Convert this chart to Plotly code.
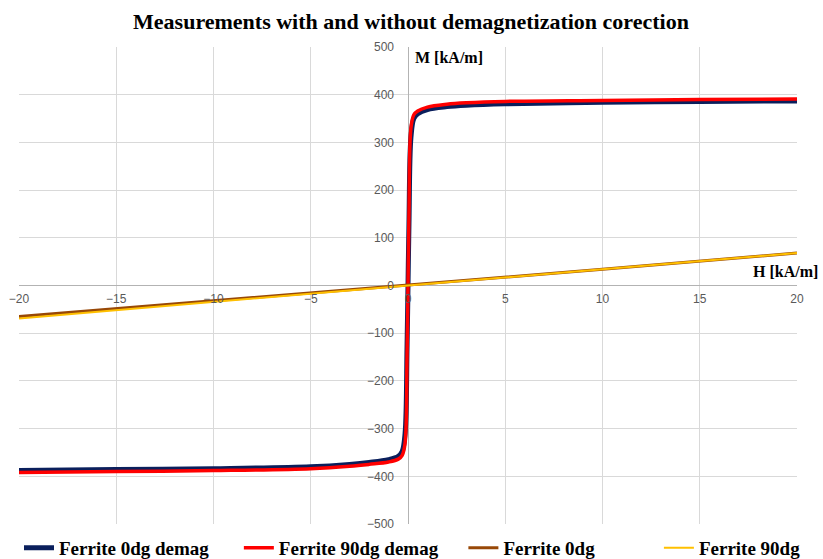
import plotly.graph_objects as go

# H field [kA/m] and magnetization [kA/m]
h_demag = [-20, -15, -10, -5, -3, -2, -1, -0.5, -0.3, -0.15, -0.05, 0,
           0.05, 0.15, 0.3, 0.5, 1, 2, 3, 5, 10, 15, 20]
m_0dg_demag = [-388, -386, -384, -380, -375, -371, -365, -358, -348, -310, -130, 0,
               130, 310, 350, 360, 369, 375, 378, 381, 384, 386, 387]
m_90dg_demag = [-392, -390, -388, -384, -379, -375, -370, -364, -356, -330, -150, 0,
                150, 330, 358, 366, 374, 380, 383, 386, 388, 390, 391]

h_raw = [-20, -10, 0, 10, 20]
m_0dg = [-65, -32, 0, 34, 68]
m_90dg = [-69, -34, 0, 34, 68]

serif = "Liberation Serif"

fig = go.Figure()
fig.add_trace(go.Scatter(x=h_demag, y=m_0dg_demag, mode="lines", name="Ferrite 0dg demag",
                         line=dict(color="#0a1f5c", width=5, shape="spline"), legend="legend"))
fig.add_trace(go.Scatter(x=h_demag, y=m_90dg_demag, mode="lines", name="Ferrite 90dg demag",
                         line=dict(color="#ff0000", width=3.5, shape="spline"), legend="legend2"))
fig.add_trace(go.Scatter(x=h_raw, y=m_0dg, mode="lines", name="Ferrite 0dg",
                         line=dict(color="#984807", width=3), legend="legend3"))
fig.add_trace(go.Scatter(x=h_raw, y=m_90dg, mode="lines", name="Ferrite 90dg",
                         line=dict(color="#ffc000", width=2), legend="legend4"))


def leg(x):
    return dict(orientation="h", x=x, xanchor="left", y=-0.05, yanchor="middle",
                font=dict(family=serif, size=19, color="black", weight="bold"),
                itemwidth=30, bgcolor="rgba(0,0,0,0)")


fig.update_layout(
    width=823,
    height=559,
    margin=dict(l=19, r=26, t=47, b=35, autoexpand=False),
    plot_bgcolor="white",
    paper_bgcolor="white",
    title=dict(text="<b>Measurements with and without demagnetization corection</b>",
               x=0.4994, xanchor="center", y=0.962, yanchor="middle",
               font=dict(family=serif, size=22, color="black")),
    legend=leg(0.0),
    legend2=leg(0.2826),
    legend3=leg(0.5712),
    legend4=leg(0.8225),
    showlegend=True,
)

fig.update_xaxes(range=[-20, 20], dtick=5, tick0=0, anchor="free", position=0.5,
                 showgrid=True, gridcolor="#d9d9d9", gridwidth=1,
                 zeroline=True, zerolinecolor="#b3b3b3", zerolinewidth=1,
                 ticks="", ticklabelstandoff=4, ticklabeloverflow="allow",
                 tickfont=dict(family="Liberation Sans", size=12, color="#595959"))
fig.update_yaxes(range=[-500, 500], dtick=100, tick0=0, anchor="free", position=0.5,
                 showgrid=True, gridcolor="#d9d9d9", gridwidth=1,
                 zeroline=True, zerolinecolor="#b3b3b3", zerolinewidth=1,
                 ticks="", ticklabelstandoff=14, ticklabeloverflow="allow",
                 tickfont=dict(family="Liberation Sans", size=12, color="#595959"))

fig.add_annotation(text="<b>M [kA/m]</b>", xref="paper", yref="paper", x=0.5066, y=0.979,
                   xanchor="left", yanchor="middle", showarrow=False,
                   font=dict(family=serif, size=16, color="black"))
fig.add_annotation(text="<b>H [kA/m]</b>", xref="paper", yref="paper", x=1.03, y=0.530,
                   xanchor="right", yanchor="middle", showarrow=False,
                   font=dict(family=serif, size=16, color="black"))

# drop the default 8px page margin so the figure fills the window
fig.write_html("out.html", config={"displayModeBar": False},
               post_script="document.body.style.margin='0';")
